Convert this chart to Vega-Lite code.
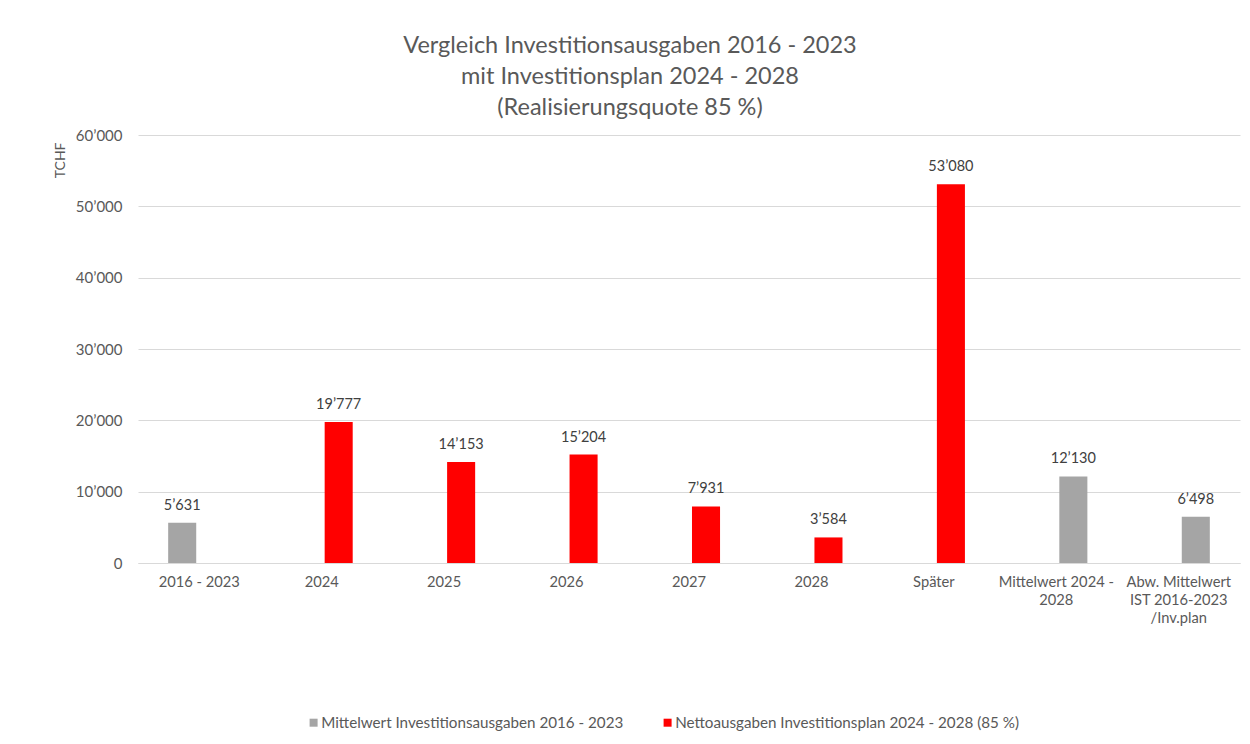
{
  "$schema": "https://vega.github.io/schema/vega-lite/v6.json",
  "width": 1102,
  "height": 428,
  "autosize": {"type": "none"},
  "padding": {"left": 138, "top": 135, "right": 10, "bottom": 181},
  "background": "white",
  "title": {
    "text": ["Vergleich Investitionsausgaben 2016 - 2023", "mit Investitionsplan 2024 - 2028", "(Realisierungsquote 85 %)"],
    "font": "Lato",
    "fontSize": 23.5,
    "fontWeight": "normal",
    "color": "#595959",
    "anchor": "middle",
    "dx": -59,
    "offset": 9,
    "lineHeight": 31
  },
  "data": {
    "values": [
      {"Kategorie": "2016 - 2023", "Serie": "a", "Legende": "Mittelwert Investitionsausgaben 2016 - 2023", "Wert": 5631},
      {"Kategorie": "2024", "Serie": "b", "Legende": "Nettoausgaben Investitionsplan 2024 - 2028 (85 %)", "Wert": 19777},
      {"Kategorie": "2025", "Serie": "b", "Legende": "Nettoausgaben Investitionsplan 2024 - 2028 (85 %)", "Wert": 14153},
      {"Kategorie": "2026", "Serie": "b", "Legende": "Nettoausgaben Investitionsplan 2024 - 2028 (85 %)", "Wert": 15204},
      {"Kategorie": "2027", "Serie": "b", "Legende": "Nettoausgaben Investitionsplan 2024 - 2028 (85 %)", "Wert": 7931},
      {"Kategorie": "2028", "Serie": "b", "Legende": "Nettoausgaben Investitionsplan 2024 - 2028 (85 %)", "Wert": 3584},
      {"Kategorie": "Später", "Serie": "b", "Legende": "Nettoausgaben Investitionsplan 2024 - 2028 (85 %)", "Wert": 53080},
      {"Kategorie": "Mittelwert 2024 -|2028", "Serie": "b", "Legende": "Mittelwert Investitionsausgaben 2016 - 2023", "Wert": 12130},
      {"Kategorie": "Abw. Mittelwert|IST 2016-2023|/Inv.plan", "Serie": "b", "Legende": "Mittelwert Investitionsausgaben 2016 - 2023", "Wert": 6498}
    ]
  },
  "encoding": {
    "x": {
      "field": "Kategorie",
      "type": "nominal",
      "sort": null,
      "scale": {"paddingInner": 0.444, "paddingOuter": 0.222},
      "axis": {
        "title": null,
        "labelAngle": 0,
        "labelExpr": "split(datum.label, '|')",
        "labelLineHeight": 18,
        "labelFont": "Lato",
        "labelFontSize": 14.7,
        "labelColor": "#595959",
        "labelPadding": 11,
        "labelLimit": 0,
        "ticks": false,
        "domainColor": "#d9d9d9",
        "domainWidth": 1
      }
    },
    "xOffset": {
      "field": "Serie",
      "type": "nominal",
      "scale": {"domain": ["a", "b"], "paddingInner": 0.176, "paddingOuter": 0.088}
    },
    "y": {
      "field": "Wert",
      "type": "quantitative",
      "scale": {"domain": [0, 60000], "nice": false},
      "axis": {
        "values": [0, 10000, 20000, 30000, 40000, 50000, 60000],
        "format": ",d",
        "grid": true,
        "gridColor": "#d9d9d9",
        "domain": false,
        "ticks": false,
        "labelFont": "Lato",
        "labelFontSize": 15,
        "labelColor": "#595959",
        "labelPadding": 16,
        "title": "TCHF",
        "titleFont": "Lato",
        "titleFontSize": 14,
        "titleFontWeight": "normal",
        "titleColor": "#595959",
        "titleAngle": -90,
        "titleAlign": "right",
        "titleBaseline": "middle",
        "titleX": -78,
        "titleY": 7
      }
    }
  },
  "layer": [
    {
      "mark": {"type": "bar"},
      "encoding": {
        "color": {
          "field": "Legende",
          "type": "nominal",
          "scale": {
            "domain": ["Mittelwert Investitionsausgaben 2016 - 2023", "Nettoausgaben Investitionsplan 2024 - 2028 (85 %)"],
            "range": ["#a5a5a5", "#ff0000"]
          },
          "legend": {
            "title": null,
            "orient": "none",
            "legendX": 168,
            "legendY": 580,
            "direction": "horizontal",
            "symbolType": "square",
            "symbolSize": 64,
            "symbolStrokeWidth": 0,
            "labelFont": "Lato",
            "labelFontSize": 15.2,
            "labelColor": "#595959",
            "labelOffset": 0,
            "labelLimit": 0,
            "columnPadding": 36
          }
        }
      }
    },
    {
      "mark": {"type": "text", "baseline": "bottom", "dy": -10, "font": "Lato", "fontSize": 14.5, "color": "#404040"},
      "encoding": {
        "text": {"field": "Wert", "type": "quantitative", "format": ",d"}
      }
    }
  ],
  "config": {
    "view": {"stroke": null},
    "locale": {"number": {"decimal": ".", "thousands": "’", "grouping": [3], "currency": ["", ""]}}
  }
}
